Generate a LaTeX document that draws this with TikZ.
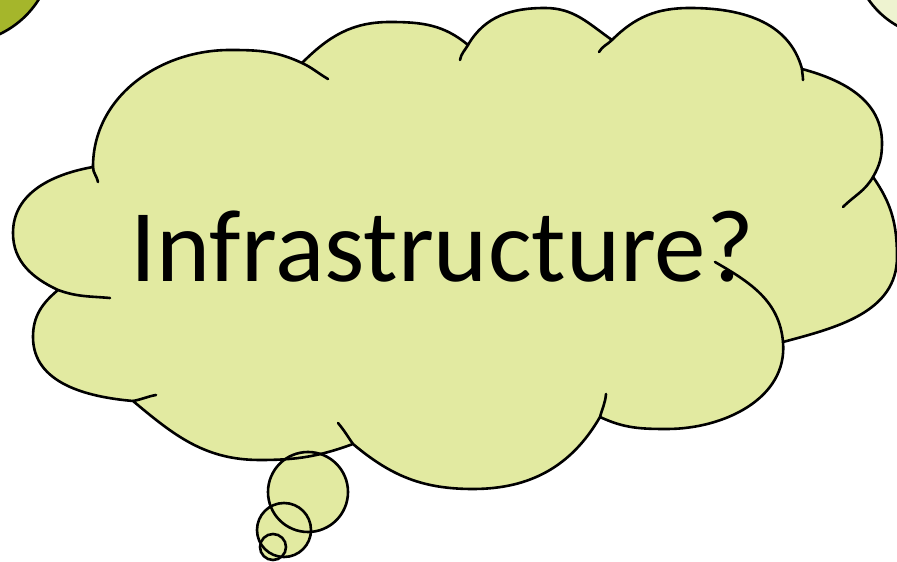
\documentclass[tikz,border=0pt]{standalone}
\usepackage{fontspec}
\setmainfont{Carlito}
\definecolor{cloudfill}{RGB}{226,234,161}
\definecolor{olivedisc}{RGB}{165,182,43}
\definecolor{paledisc}{RGB}{238,243,208}
\newcommand{\cloudoutline}{(93,395) to[out=90,in=180] (230,512)
    to[out=0,in=155] (302,499) to[out=45,in=180] (390,540)
    to[out=0,in=140] (468,517) to[out=60,in=180] (545,554)
    to[out=0,in=145] (612,522) to[out=45,in=180] (690,554)
    to[out=0,in=105] (802,493) to[out=-15,in=90] (882,419)
    to[out=-90,in=60] (873,385) to[out=-55,in=90] (897,305)
    to[out=-90,in=15] (783,220) to[out=-85,in=0] (667,133)
    to[out=180,in=-25] (600,145) to[out=240,in=0] (473,73)
    to[out=180,in=-40] (353,118) to[out=200,in=0] (260,102)
    to[out=180,in=-40] (133,161) to[out=175,in=-90] (33,225)
    to[out=90,in=220] (58,272) to[out=155,in=-90] (13,329)
    to[out=90,in=190] (93,395) -- cycle}

\begin{document}
\begin{tikzpicture}[x=1pt,y=1pt,
        cloudline/.style={line width=2.6pt, line cap=round, line join=round}]
        \useasboundingbox (0,0) rectangle (897,562);
        \clip (0,0) rectangle (897,562);
        % discs in the corners
        \draw[cloudline, fill=olivedisc] (-40,612) circle[radius=93];
        \draw[cloudline, fill=paledisc] (940,612) circle[radius=87];
        % cloud and bubbles
        \fill[cloudfill] \cloudoutline;
        \foreach \cx/\cy/\r in {308/70/40, 284/32/27, 273/15/13} {
            \fill[cloudfill] (\cx, \cy) circle[radius=\r];
        }
        \draw[cloudline] \cloudoutline;
        \draw[cloudline] (302,499) to[out=-25,in=150] (328,483);
        \draw[cloudline] (468,517) to[out=240,in=80] (460,502);
        \draw[cloudline] (612,522) to[out=225,in=60] (599,510);
        \draw[cloudline] (802,493) to[out=-88,in=90] (803,482);
        \draw[cloudline] (873,385) to[out=240,in=45] (843,355);
        \draw[cloudline] (783,220) to[out=95,in=-30] (715,300);
        \draw[cloudline] (600,145) to[out=75,in=-95] (606,168);
        \draw[cloudline] (353,118) to[out=125,in=-50] (338,139);
        \draw[cloudline] (133,161) to[out=10,in=190] (156,167);
        \draw[cloudline] (58,272) to[out=-20,in=175] (110,264);
        \draw[cloudline] (93,395) to[out=-90,in=100] (98,380);
        \foreach \cx/\cy/\r in {308/70/40, 284/32/27, 273/15/13} {
            \draw[cloudline] (\cx, \cy) circle[radius=\r];
        }
        \node[anchor=base, inner sep=0pt] (label) at (442,280)
            {\fontsize{103}{110}\selectfont Infrastructure?};
    \end{tikzpicture}
\end{document}
